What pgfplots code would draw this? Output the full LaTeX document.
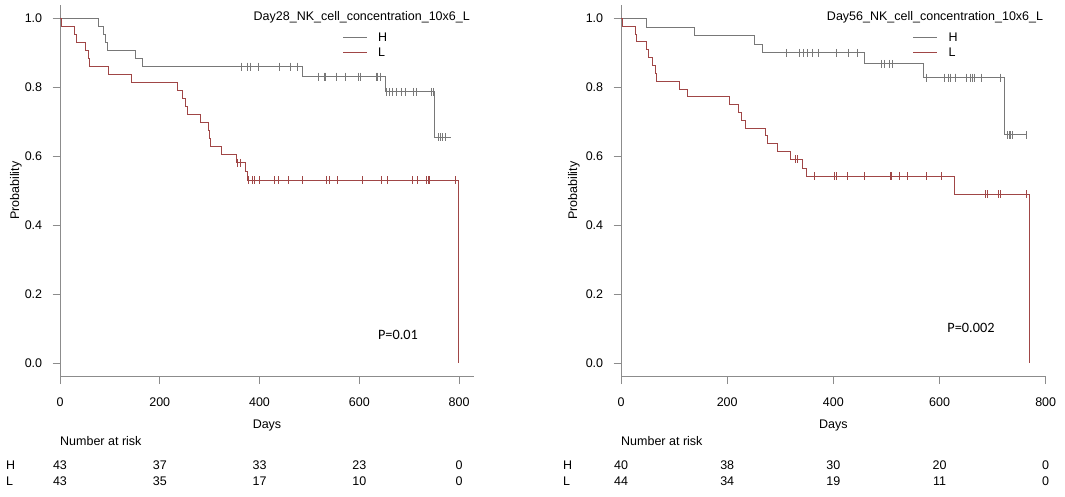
\documentclass[border=0pt]{standalone}
\usepackage{fontspec}
\setmainfont{Liberation Sans}
\newfontfamily\pfont{Carlito}
\usepackage{pgfplots}
\pgfplotsset{compat=1.18}
\definecolor{hcol}{RGB}{120,120,120}
\definecolor{lcol}{RGB}{160,70,70}
\definecolor{axcol}{RGB}{140,140,140}
\pgfplotsset{km/.style={
  scale only axis, height=372pt,
  ymin=-0.04, ymax=1.04,
  axis x line*=bottom, axis y line*=left,
  axis line style={draw=axcol, line width=0.8pt, -},
  tick align=outside, major tick length=7.5pt,
  every tick/.style={draw=axcol, line width=0.8pt},
  xtick={0,200,400,600,800}, ytick={0,0.2,0.4,0.6,0.8,1.0},
  yticklabel style={xshift=-6pt, /pgf/number format/fixed, /pgf/number format/fixed zerofill, /pgf/number format/precision=1},
  xticklabel style={yshift=-9pt},
  /pgf/number format/assume math mode=true,
  clip=false, anchor=south west,
  hline/.style={const plot, hcol, line width=0.9pt, mark=none},
  lline/.style={const plot, lcol, line width=0.9pt, mark=none},
  hcens/.style={only marks, mark=|, mark size=4pt, mark options={draw=hcol, line width=0.8pt}},
  lcens/.style={only marks, mark=|, mark size=4pt, mark options={draw=lcol, line width=0.8pt}},
}}
\begin{document}
\fontsize{12.5}{15}\selectfont
\begin{tikzpicture}[font=\fontsize{12.5}{15}\selectfont]
\path[use as bounding box] (0,0) rectangle (1065pt,-497pt);
% ---------------- left panel ----------------
\begin{axis}[km, at={(60pt,-376.7pt)}, width=414pt, xmin=0, xmax=830]
\addplot[hline] coordinates {(0,1) (77.5,0.977) (87,0.953) (92,0.930) (95,0.907) (152,0.884) (166,0.860) (487,0.831) (652,0.787) (751,0.655) (783,0.655)};
\addplot[lline] coordinates {(0,1) (2,0.977) (28,0.953) (32,0.930) (52,0.907) (57,0.884) (60,0.860) (98,0.837) (144,0.814) (235,0.791) (246,0.767) (251,0.744) (256,0.721) (281,0.698) (298,0.674) (300,0.651) (302,0.628) (323,0.605) (353,0.581) (372,0.556) (376,0.531) (799,0)};
\addplot[hcens] coordinates {(364,0.860) (376,0.860) (381,0.860) (398,0.860) (440,0.860) (461,0.860) (475,0.860)
 (518,0.831) (531,0.831) (532,0.831) (555,0.831) (572,0.831) (598,0.831) (602,0.831) (634,0.831) (637,0.831) (642,0.831)
 (654,0.787) (660,0.787) (667,0.787) (675,0.787) (684,0.787) (692,0.787) (709,0.787) (715,0.787) (744,0.787) (749,0.787)
 (759,0.655) (763,0.655) (767,0.655) (772,0.655)};
\addplot[lcens] coordinates {(356,0.581) (361,0.581)
 (378,0.531) (386,0.531) (390,0.531) (400,0.531) (429,0.531) (437,0.531) (458,0.531) (485,0.531) (535,0.531) (540,0.531) (557,0.531) (606,0.531) (645,0.531) (656,0.531) (707,0.531) (717,0.531) (735,0.531) (739,0.531) (741,0.531) (792,0.531)};
\end{axis}
% ---------------- right panel ----------------
\begin{axis}[km, at={(621pt,-376.7pt)}, width=424.7pt, xmin=0, xmax=800]
\addplot[hline] coordinates {(0,1) (47,0.975) (138,0.950) (251,0.925) (266,0.900) (458,0.868) (569,0.828) (722,0.662) (765,0.662)};
\addplot[lline] coordinates {(0,1) (3,0.977) (28,0.955) (30,0.932) (47,0.909) (51,0.886) (60,0.864) (64,0.841) (67,0.818) (110,0.795) (126,0.773) (204,0.750) (222,0.727) (226,0.705) (235,0.682) (273,0.659) (275,0.636) (295,0.614) (320,0.591) (342,0.566) (350,0.542) (628,0.490) (770,0)};
\addplot[hcens] coordinates {(311,0.900) (336,0.900) (343,0.900) (352,0.900) (360,0.900) (361,0.900) (372,0.900) (406,0.900) (428,0.900) (446,0.900)
 (490,0.868) (497,0.868) (505,0.868) (511,0.868)
 (576,0.828) (609,0.828) (616,0.828) (620,0.828) (629,0.828) (630,0.828) (651,0.828) (658,0.828) (662,0.828) (666,0.828) (679,0.828) (714,0.828)
 (728,0.662) (731,0.662) (734,0.662) (737,0.662) (764,0.662)};
\addplot[lcens] coordinates {(328,0.591) (332,0.591)
 (364,0.542) (402,0.542) (405,0.542) (426,0.542) (458,0.542) (507,0.542) (510,0.542) (524,0.542) (540,0.542) (576,0.542) (603,0.542)
 (687,0.490) (690,0.490) (710,0.490) (715,0.490) (763,0.490)};
\end{axis}
% ---------------- texts, left ----------------
\node[anchor=base east, inner sep=0pt] at (470pt,-21pt) {Day28\_NK\_cell\_concentration\_10x6\_L};
\draw[hcol, line width=0.8pt] (343pt,-37.7pt) -- (367pt,-37.7pt);
\draw[lcol, line width=0.8pt] (343pt,-52.3pt) -- (367pt,-52.3pt);
\node[anchor=west, inner sep=0pt] at (378pt,-37.7pt) {H};
\node[anchor=west, inner sep=0pt] at (378pt,-52.3pt) {L};
\node[inner sep=0pt] at (398pt,-335pt) {\pfont\fontsize{14.3}{16}\selectfont P=0.01};
\node[rotate=90, inner sep=0pt] at (16pt,-190.7pt) {Probability};
\node[inner sep=0pt] at (267pt,-425.7pt) {Days};
\node[anchor=west, inner sep=0pt] at (60pt,-441pt) {Number at risk};
\node[anchor=west, inner sep=0pt] at (6pt,-465pt) {H};
\node[anchor=west, inner sep=0pt] at (6pt,-481pt) {L};
\foreach \xx/\a/\b in {60/43/43, 159.8/37/35, 259.5/33/17, 359.3/23/10, 459/0/0}{
  \node[inner sep=0pt] at (\xx pt,-465pt) {\a};
  \node[inner sep=0pt] at (\xx pt,-481pt) {\b};
}
% ---------------- texts, right ----------------
\node[anchor=base east, inner sep=0pt] at (1043.3pt,-21pt) {Day56\_NK\_cell\_concentration\_10x6\_L};
\draw[hcol, line width=0.8pt] (913.3pt,-37.7pt) -- (936.7pt,-37.7pt);
\draw[lcol, line width=0.8pt] (913.3pt,-52.3pt) -- (936.7pt,-52.3pt);
\node[anchor=west, inner sep=0pt] at (948.3pt,-37.7pt) {H};
\node[anchor=west, inner sep=0pt] at (948.3pt,-52.3pt) {L};
\node[inner sep=0pt] at (971pt,-327.7pt) {\pfont\fontsize{14.3}{16}\selectfont P=0.002};
\node[rotate=90, inner sep=0pt] at (574pt,-190.7pt) {Probability};
\node[inner sep=0pt] at (833.3pt,-425.7pt) {Days};
\node[anchor=west, inner sep=0pt] at (621pt,-441pt) {Number at risk};
\node[anchor=west, inner sep=0pt] at (563pt,-465pt) {H};
\node[anchor=west, inner sep=0pt] at (563pt,-481pt) {L};
\foreach \xx/\a/\b in {621/40/44, 727.2/38/34, 833.4/30/19, 939.5/20/11, 1045.7/0/0}{
  \node[inner sep=0pt] at (\xx pt,-465pt) {\a};
  \node[inner sep=0pt] at (\xx pt,-481pt) {\b};
}
\end{tikzpicture}
\end{document}
